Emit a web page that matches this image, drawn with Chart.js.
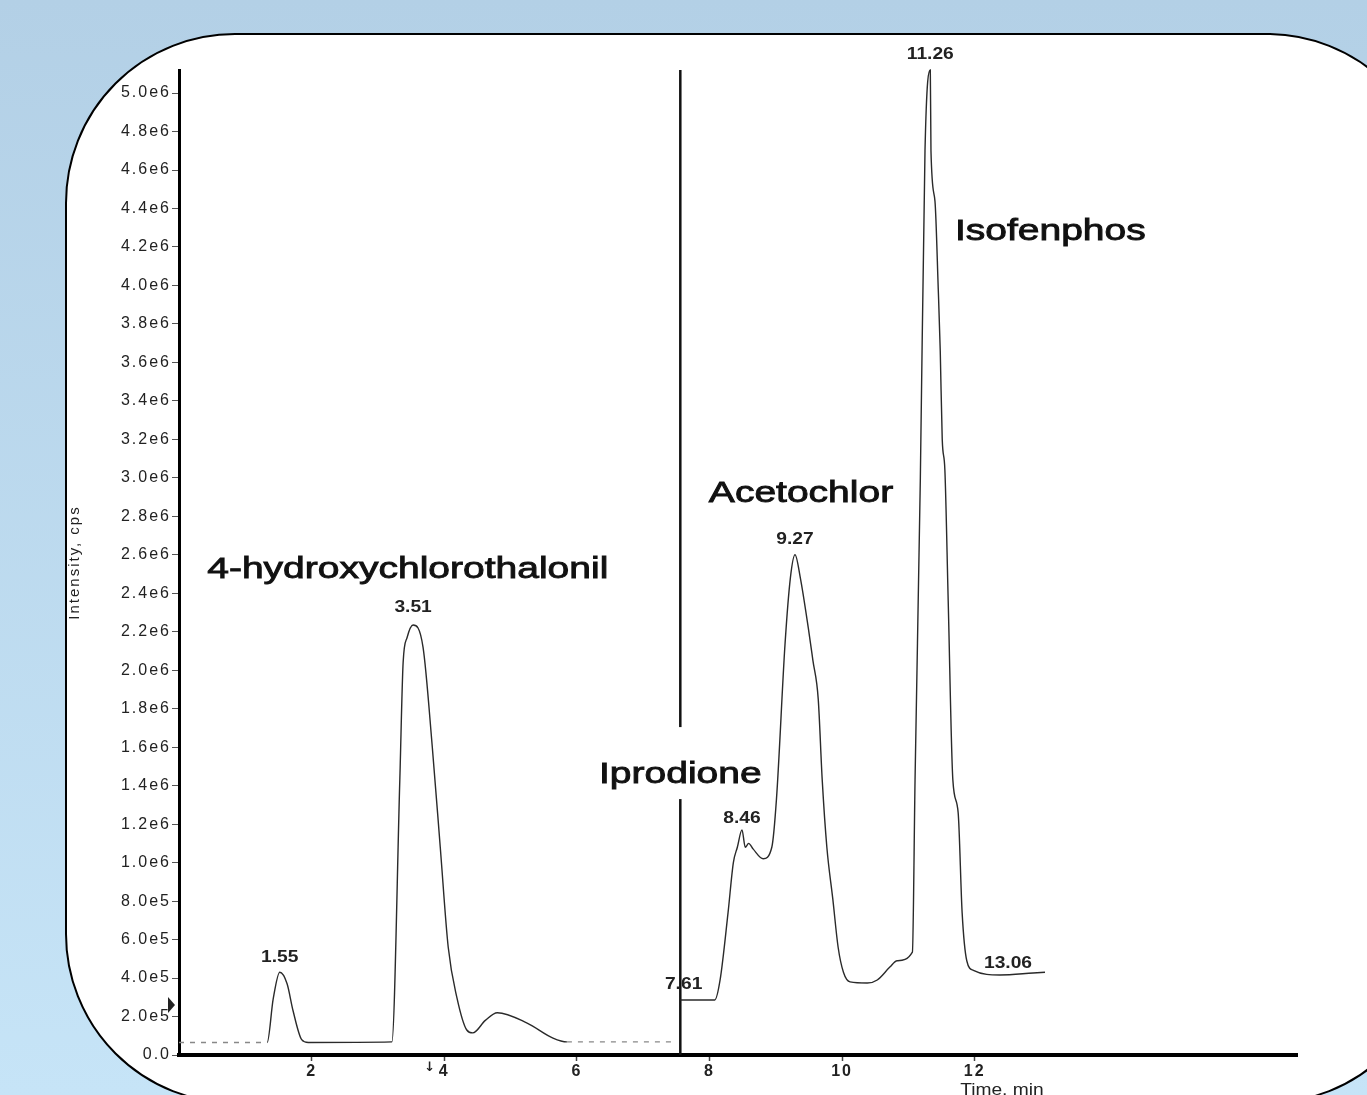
<!DOCTYPE html>
<html>
<head>
<meta charset="utf-8">
<title>Chromatogram</title>
<script src="https://cdn.jsdelivr.net/npm/chart.js@4.4.0/dist/chart.umd.min.js"></script>
<style>
  html, body {
    margin: 0;
    padding: 0;
    width: 1367px;
    height: 1095px;
    overflow: hidden;
    background: linear-gradient(#b3d0e6, #c6e4f7);
  }
  #panel {
    position: absolute;
    left: 65px;
    top: 33px;
    width: 1372px;
    height: 1071px;
    box-sizing: border-box;
    border: 2px solid #000;
    border-radius: 170px;
    background: #fff;
  }
  #chart {
    position: absolute;
    left: 0;
    top: 0;
  }
</style>
</head>
<body>
<div id="panel"></div>
<canvas id="chart" width="1367" height="1095"></canvas>
<script>
// first trace (before the splice), time in min / intensity in cps
const leftTimes = [0, 1.33, 1.42, 1.52, 1.63, 1.72, 1.85, 1.95, 3.21, 3.33, 3.38, 3.44, 3.53,
  3.68, 3.82, 3.94, 4.06, 4.19, 4.34, 4.43, 4.62, 4.80, 5.25, 5.64, 5.85, 7.50];
const leftCps = [65000, 65000, 290000, 430000, 370000, 230000, 80000, 65000, 68000, 1430000,
  2040000, 2170000, 2235000, 2120000, 1600000, 1080000, 560000, 300000, 130000, 115000,
  180000, 220000, 166000, 88000, 68000, 68000];

// second trace (after the splice)
const rightTimes = [7.56, 8.08, 8.16, 8.28, 8.36, 8.42, 8.49, 8.54, 8.59, 8.66, 8.81, 8.94,
  9.01, 9.14, 9.22, 9.29, 9.37, 9.49, 9.56, 9.64, 9.70, 9.77, 9.86, 9.94, 10.02, 10.12,
  10.38, 10.53, 10.72, 10.83, 11.06, 11.10, 11.18, 11.25, 11.33, 11.34, 11.40, 11.45,
  11.48, 11.51, 11.55, 11.60, 11.67, 11.75, 11.81, 11.88, 11.98, 12.38, 12.88, 13.06];
const rightCps = [286000, 286000, 390000, 740000, 1000000, 1080000, 1170000, 1080000,
  1100000, 1070000, 1020000, 1080000, 1330000, 2140000, 2480000, 2600000, 2480000,
  2220000, 2050000, 1850000, 1430000, 1080000, 810000, 560000, 430000, 380000, 374000,
  390000, 457000, 490000, 535000, 1430000, 3000000, 4700000, 5120000, 4700000, 4440000,
  3980000, 3660000, 3200000, 3040000, 2360000, 1430000, 1260000, 740000, 490000, 440000,
  416000, 426000, 430000];

// vertical splice line
const spliceTime = 7.56;
const spliceTop = 5120000;

// peak retention-time labels
const peakTexts = ['1.55', '3.51', '7.61', '8.46', '9.27', '11.26', '13.06'];
const peakTimes = [1.52, 3.53, 7.61, 8.49, 9.29, 11.33, 13.06];
const peakCps = [430000, 2235000, 286000, 1170000, 2600000, 5120000, 430000];

// compound names
const compoundNames = ['4-hydroxychlorothalonil', 'Acetochlor', 'Iprodione', 'Isofenphos'];
const compoundTimes = [3.45, 9.38, 7.56, 13.14];
const compoundCps = [2520000, 2920000, 1455000, 4280000];

const xTickValues = [2, 4, 6, 8, 10, 12];
const xTickLabels = ['2', '4', '6', '8', '10', '12'];
const yTickValues = [0, 200000, 400000, 600000, 800000, 1000000, 1200000, 1400000, 1600000,
  1800000, 2000000, 2200000, 2400000, 2600000, 2800000, 3000000, 3200000, 3400000, 3600000,
  3800000, 4000000, 4200000, 4400000, 4600000, 4800000, 5000000];
const yTickLabels = ['0.0', '2.0e5', '4.0e5', '6.0e5', '8.0e5', '1.0e6', '1.2e6', '1.4e6',
  '1.6e6', '1.8e6', '2.0e6', '2.2e6', '2.4e6', '2.6e6', '2.8e6', '3.0e6', '3.2e6', '3.4e6',
  '3.6e6', '3.8e6', '4.0e6', '4.2e6', '4.4e6', '4.6e6', '4.8e6', '5.0e6'];

const FONT = '"Liberation Sans", Arial, sans-serif';
const toPoints = (xs, ys) => xs.map((t, i) => ({ x: t, y: ys[i] }));

// pixel nudges for labels that sit off their peak in the original
const peakLabelShift = { '13.06': [-37, 6], '3.51': [0, -2], '8.46': [0, 4] };

// the scanned original is stretched sideways, so text gets a bit of spacing
const letterSpacing = {
  id: 'letterSpacing',
  beforeDraw(chart) { chart.ctx.letterSpacing = '2px'; },
  afterDraw(chart) { chart.ctx.letterSpacing = '0px'; }
};

const annotate = {
  id: 'annotate',
  afterDatasetsDraw(chart) {
    const { ctx } = chart;
    const x = chart.scales.x;
    const y = chart.scales.y;
    ctx.save();
    ctx.letterSpacing = '0px';
    ctx.textAlign = 'center';
    ctx.textBaseline = 'middle';

    // compound names (white box hides the splice line behind "Iprodione")
    ctx.font = '30px ' + FONT;
    compoundNames.forEach((name, i) => {
      const px = x.getPixelForValue(compoundTimes[i]);
      const py = y.getPixelForValue(compoundCps[i]);
      const w = ctx.measureText(name).width * 1.3;
      ctx.fillStyle = '#fff';
      ctx.fillRect(px - w / 2 - 6, py - 48, w + 12, 72);
      ctx.save();
      ctx.translate(px, py);
      ctx.scale(1.3, 1);
      ctx.fillStyle = '#111';
      ctx.strokeStyle = '#111';
      ctx.lineWidth = 0.9;
      ctx.fillText(name, 0, 0);
      ctx.strokeText(name, 0, 0);
      ctx.restore();
    });

    // peak labels
    ctx.font = 'bold 16px ' + FONT;
    peakTexts.forEach((txt, i) => {
      const [dx, dy] = peakLabelShift[txt] || [0, 0];
      const px = x.getPixelForValue(peakTimes[i]) + dx;
      const py = y.getPixelForValue(peakCps[i]) - 15 + dy;
      ctx.save();
      ctx.translate(px, py);
      ctx.scale(1.2, 1);
      ctx.fillStyle = '#222';
      ctx.fillText(txt, 0, 0);
      ctx.restore();
    });

    // x axis title, partly cut off by the page bottom like the original
    const base = y.getPixelForValue(0);
    ctx.font = '16px ' + FONT;
    ctx.textBaseline = 'top';
    ctx.save();
    ctx.translate(x.getPixelForValue(12.41), base + 28);
    ctx.scale(1.2, 1);
    ctx.fillStyle = '#222';
    ctx.fillText('Time, min', 0, 0);
    ctx.restore();

    // little markers from the instrument printout
    ctx.font = 'bold 13px "DejaVu Sans", sans-serif';
    ctx.fillStyle = '#222';
    ctx.fillText('\u2193', x.getPixelForValue(3.78), base + 6);
    const ty = y.getPixelForValue(260000);
    ctx.beginPath();
    ctx.moveTo(x.left - 11, ty - 8);
    ctx.lineTo(x.left - 4, ty);
    ctx.lineTo(x.left - 11, ty + 8);
    ctx.closePath();
    ctx.fill();
    ctx.restore();
  }
};

const lastLeft = leftTimes.length - 2;

new Chart(document.getElementById('chart'), {
  type: 'scatter',
  data: {
    datasets: [
      {
        data: toPoints(leftTimes, leftCps),
        showLine: true,
        borderColor: '#2a2a2a',
        borderWidth: 1.4,
        pointRadius: 0,
        cubicInterpolationMode: 'monotone',
        clip: false,
        segment: {
          borderDash: ctx => (ctx.p0DataIndex === 0 || ctx.p0DataIndex === lastLeft) ? [5, 6] : undefined,
          borderColor: ctx => (ctx.p0DataIndex === 0 || ctx.p0DataIndex === lastLeft) ? '#888' : undefined
        }
      },
      {
        data: toPoints(rightTimes, rightCps),
        showLine: true,
        borderColor: '#2a2a2a',
        borderWidth: 1.4,
        pointRadius: 0,
        cubicInterpolationMode: 'monotone',
        clip: false
      },
      {
        data: [{ x: spliceTime, y: 0 }, { x: spliceTime, y: spliceTop }],
        showLine: true,
        borderColor: '#111',
        borderWidth: 2.5,
        pointRadius: 0,
        clip: false
      }
    ]
  },
  options: {
    responsive: false,
    animation: false,
    devicePixelRatio: 1,
    layout: { padding: { left: 0, right: 70, top: 70, bottom: 0 } },
    plugins: {
      legend: { display: false },
      tooltip: { enabled: false }
    },
    scales: {
      x: {
        type: 'linear',
        min: 0,
        max: 16.86,
        afterFit(axis) { axis.height = 40; },
        afterBuildTicks(axis) { axis.ticks = xTickValues.map(v => ({ value: v })); },
        ticks: {
          callback: (v, i) => xTickLabels[i],
          font: { family: FONT, size: 16, weight: 'bold' },
          color: '#222',
          padding: 1,
          maxRotation: 0,
          autoSkip: false
        },
        grid: { drawOnChartArea: false, drawTicks: true, tickLength: 6, tickColor: '#444', tickWidth: 1.5 },
        border: { display: true, color: '#000', width: 4 }
      },
      y: {
        min: 0,
        max: 5120000,
        afterFit(axis) { axis.width = 179; },
        afterBuildTicks(axis) { axis.ticks = yTickValues.map(v => ({ value: v })); },
        ticks: {
          callback: (v, i) => yTickLabels[i],
          font: { family: FONT, size: 16 },
          color: '#222',
          padding: 1,
          autoSkip: false
        },
        grid: { drawOnChartArea: false, drawTicks: true, tickLength: 7, tickColor: '#555', tickWidth: 1 },
        border: { display: true, color: '#000', width: 3 },
        title: {
          display: true,
          text: 'Intensity, cps',
          font: { family: FONT, size: 15 },
          color: '#222',
          padding: { top: 66, bottom: 0 }
        }
      }
    }
  },
  plugins: [letterSpacing, annotate]
});
</script>
</body>
</html>
